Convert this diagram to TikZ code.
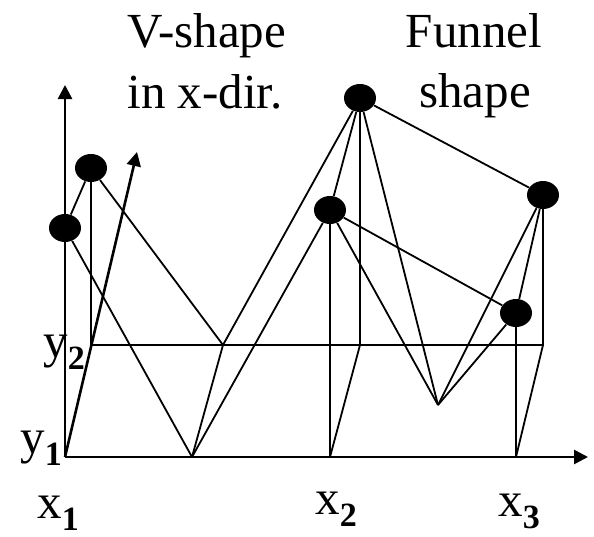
\documentclass[tikz,border=0pt]{standalone}
\usepackage{fontspec}
\setmainfont{Liberation Serif}
\usetikzlibrary{arrows.meta, shapes.geometric}
\newcommand{\axlbl}[2]{#1\raisebox{-6pt}{\fontsize{17}{18}\selectfont\bfseries #2}}
\tikzset{
  vs-dot/.style={
    ellipse, fill=black, inner sep=0pt,
    minimum width=16pt, minimum height=14pt
  },
  vs-edge/.style={line width=0.9pt, draw=black},
  vs-axis/.style={line width=1.3pt, draw=black, -{Triangle[length=7pt, width=7pt]}},
  vs-text/.style={
    inner sep=0pt, anchor=base west,
    font=\fontsize{24.5}{29}\selectfont
  },
}
\begin{document}
\begin{tikzpicture}[x=0.5pt, y=-0.5pt]
  \useasboundingbox (0,0) rectangle (594,536);

  \coordinate (o)    at (65,457);
  \coordinate (fm)   at (192,457);
  \coordinate (f2)   at (330,457);
  \coordinate (f3)   at (516,457);
  \coordinate (b1)   at (91,345);
  \coordinate (bm)   at (223,345);
  \coordinate (b2)   at (360,345);
  \coordinate (b3)   at (543,345);
  \coordinate (g)    at (438,405);
  \coordinate (xend) at (588,457);
  \coordinate (zend) at (65,85);
  \coordinate (yend) at (137,152);

  \node[vs-dot] (A) at (65,228) {};
  \node[vs-dot] (B) at (91,168) {};
  \node[vs-dot] (C) at (330,210) {};
  \node[vs-dot] (D) at (360,98) {};
  \node[vs-dot] (E) at (543,195) {};
  \node[vs-dot] (F) at (516,313) {};

  \draw[vs-axis] (o) -- (xend);
  \draw[vs-axis] (o) -- (zend);
  \draw[vs-axis] (o) -- (yend);

  \draw[vs-edge] (b1) -- (b3);
  \draw[vs-edge] (fm) -- (bm);
  \draw[vs-edge] (f2) -- (b2);
  \draw[vs-edge] (f3) -- (b3);

  \draw[vs-edge] (A) -- (B);
  \draw[vs-edge] (A) -- (fm);
  \draw[vs-edge] (B) -- (b1);
  \draw[vs-edge] (B) -- (bm);
  \draw[vs-edge] (fm) -- (C);
  \draw[vs-edge] (bm) -- (D);
  \draw[vs-edge] (C) -- (D);
  \draw[vs-edge] (C) -- (f2);
  \draw[vs-edge] (D) -- (b2);
  \draw[vs-edge] (D) -- (E);
  \draw[vs-edge] (C) -- (F);
  \draw[vs-edge] (C) -- (g);
  \draw[vs-edge] (D) -- (g);
  \draw[vs-edge] (E) -- (g);
  \draw[vs-edge] (F) -- (g);
  \draw[vs-edge] (E) -- (F);
  \draw[vs-edge] (E) -- (b3);
  \draw[vs-edge] (F) -- (f3);

  \node[vs-text] (vtop) at (127,47) {V-shape};
  \node[vs-text] (vbot) at (127,108) {in x-dir.};
  \node[vs-text, anchor=base] (ftop) at (474,47) {Funnel};
  \node[vs-text, anchor=base] (fbot) at (475,107) {shape};

  \node[vs-text] (ly2) at (43,357) {\axlbl{y}{2}};
  \node[vs-text] (ly1) at (20,453) {\axlbl{y}{1}};
  \node[vs-text] (lx1) at (37,518) {\axlbl{x}{1}};
  \node[vs-text] (lx2) at (315,514) {\axlbl{x}{2}};
  \node[vs-text] (lx3) at (498,516) {\axlbl{x}{3}};
\end{tikzpicture}
\end{document}
